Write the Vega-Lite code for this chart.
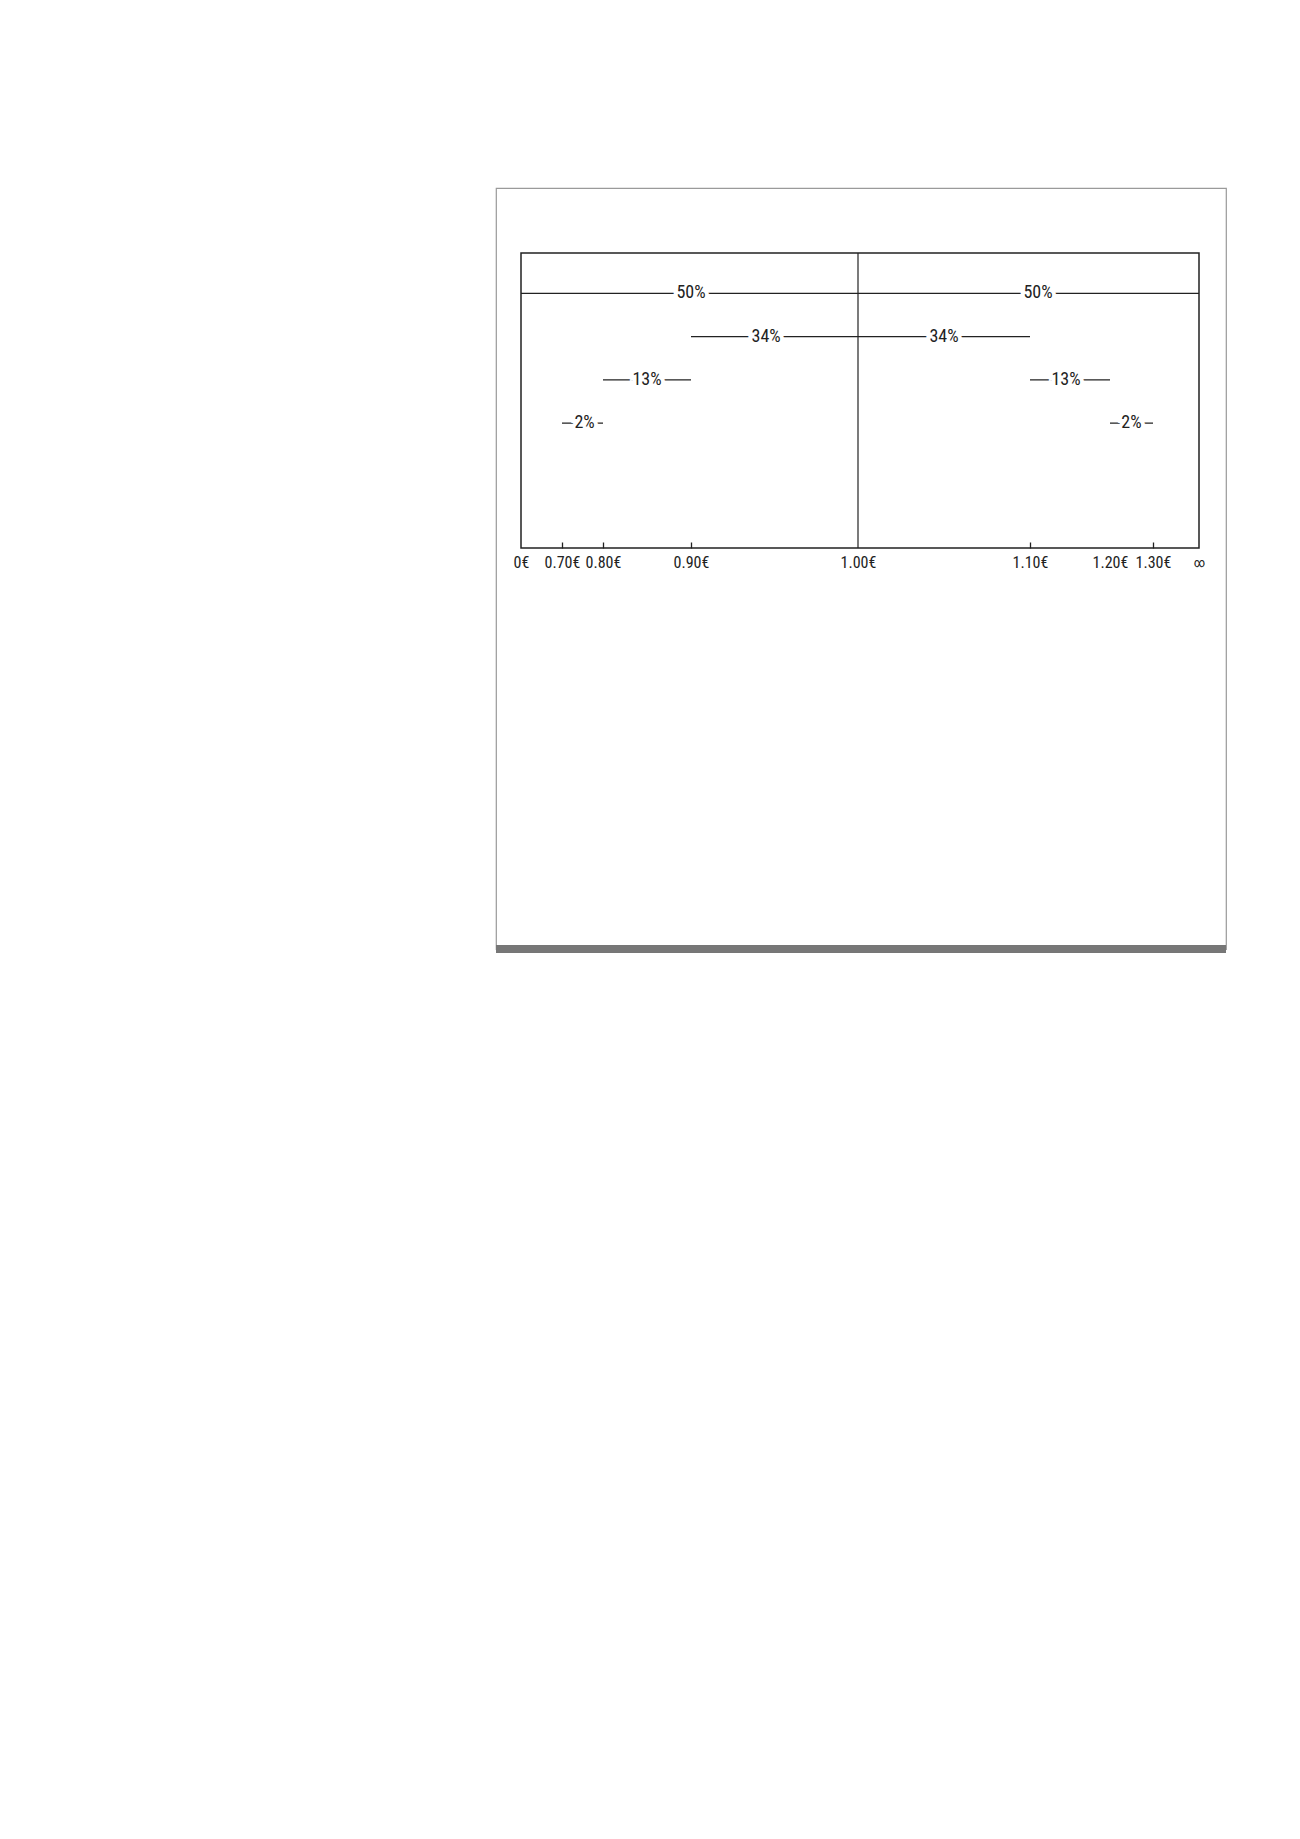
{
  "$schema": "https://vega.github.io/schema/vega-lite/v6.json",
  "description": "Share of prices around 1.00 EUR: 50% on each side, then 34%, 13% and 2% bands. The open upper end (shown as the infinity sign) is stored as 1.5; mid is the price where each band's label sits.",
  "width": 730,
  "height": 761,
  "autosize": "none",
  "padding": {"left": 496, "top": 188, "right": 74, "bottom": 890},
  "background": "white",
  "data": {
    "values": [
      {"share": "50%", "row": 1, "lo": 0, "hi": 1.0, "mid": 0.9},
      {"share": "50%", "row": 1, "lo": 1.0, "hi": 1.5, "mid": 1.11},
      {"share": "34%", "row": 2, "lo": 0.9, "hi": 1.0, "mid": 0.945},
      {"share": "34%", "row": 2, "lo": 1.0, "hi": 1.1, "mid": 1.05},
      {"share": "13%", "row": 3, "lo": 0.8, "hi": 0.9, "mid": 0.85},
      {"share": "13%", "row": 3, "lo": 1.1, "hi": 1.2, "mid": 1.145},
      {"share": "2%", "row": 4, "lo": 0.7, "hi": 0.8, "mid": 0.755},
      {"share": "2%", "row": 4, "lo": 1.2, "hi": 1.3, "mid": 1.25}
    ]
  },
  "layer": [
    {
      "mark": {"type": "rule", "color": "#777777", "strokeWidth": 7},
      "encoding": {
        "x": {"value": 0},
        "x2": {"value": "width"},
        "y": {"value": "height"}
      }
    },
    {
      "mark": {"type": "rule", "color": "#222222", "strokeWidth": 1.3},
      "encoding": {
        "x": {
          "field": "lo",
          "type": "quantitative",
          "scale": {
            "domain": [0, 0.7, 0.8, 0.9, 1.0, 1.1, 1.2, 1.3, 1.5],
            "range": [25, 66, 107, 195, 362, 534, 614, 657, 703],
            "zero": false,
            "nice": false
          },
          "axis": {
            "orient": "bottom",
            "offset": -401,
            "values": [0, 0.7, 0.8, 0.9, 1.0, 1.1, 1.2, 1.3, 1.5],
            "labelExpr": "datum.value == 0 ? '0€' : datum.value > 1.4 ? '∞' : format(datum.value, '.2f') + '€'",
            "domain": false,
            "grid": false,
            "title": null,
            "tickSize": -6,
            "tickColor": "#222222",
            "tickWidth": 1.3,
            "tickOpacity": {
              "condition": {
                "test": "datum.value == 0.7 || datum.value == 0.8 || datum.value == 0.9 || datum.value == 1.1 || datum.value == 1.3",
                "value": 1
              },
              "value": 0
            },
            "labelPadding": 20,
            "labelBaseline": "middle",
            "labelFont": "Roboto Condensed, Liberation Sans Narrow, DejaVu Sans Condensed, Roboto, sans-serif",
            "labelFontSize": {
              "condition": {"test": "datum.value > 1.4", "value": 13},
              "value": 16
            },
            "labelColor": "#222222",
            "labelFlush": false,
            "labelOverlap": false,
            "labelBound": false
          }
        },
        "x2": {"field": "hi"},
        "y": {
          "field": "row",
          "type": "quantitative",
          "scale": {"domain": [0.065, 6.887], "range": [65, 360], "zero": false, "nice": false},
          "axis": null
        }
      }
    },
    {
      "data": {"values": [{"part": "frame"}]},
      "mark": {"type": "rect", "filled": false, "stroke": "#222222", "strokeWidth": 1.5},
      "encoding": {
        "x": {"datum": 0, "type": "quantitative"},
        "x2": {"datum": 1.5},
        "y": {"datum": 0.065, "type": "quantitative", "axis": null},
        "y2": {"datum": 6.887}
      }
    },
    {
      "data": {"values": [{"part": "centre"}]},
      "mark": {"type": "rule", "color": "#222222", "strokeWidth": 1.2},
      "encoding": {
        "x": {"datum": 1.0, "type": "quantitative"},
        "y": {"datum": 0.065, "type": "quantitative", "axis": null},
        "y2": {"datum": 6.887}
      }
    },
    {
      "mark": {
        "type": "text",
        "font": "Roboto Condensed, Liberation Sans Narrow, DejaVu Sans Condensed, Roboto, sans-serif",
        "fontSize": 18,
        "fill": "white",
        "stroke": "white",
        "strokeWidth": 8,
        "baseline": "middle",
        "align": "center"
      },
      "encoding": {
        "x": {"field": "mid", "type": "quantitative"},
        "y": {"field": "row", "type": "quantitative", "axis": null},
        "text": {"field": "share"}
      }
    },
    {
      "mark": {
        "type": "text",
        "font": "Roboto Condensed, Liberation Sans Narrow, DejaVu Sans Condensed, Roboto, sans-serif",
        "fontSize": 18,
        "fill": "#222222",
        "baseline": "middle",
        "align": "center"
      },
      "encoding": {
        "x": {"field": "mid", "type": "quantitative"},
        "y": {"field": "row", "type": "quantitative", "axis": null},
        "text": {"field": "share"}
      }
    }
  ],
  "config": {
    "view": {"stroke": "#9a9a9a", "strokeWidth": 1.2}
  }
}
